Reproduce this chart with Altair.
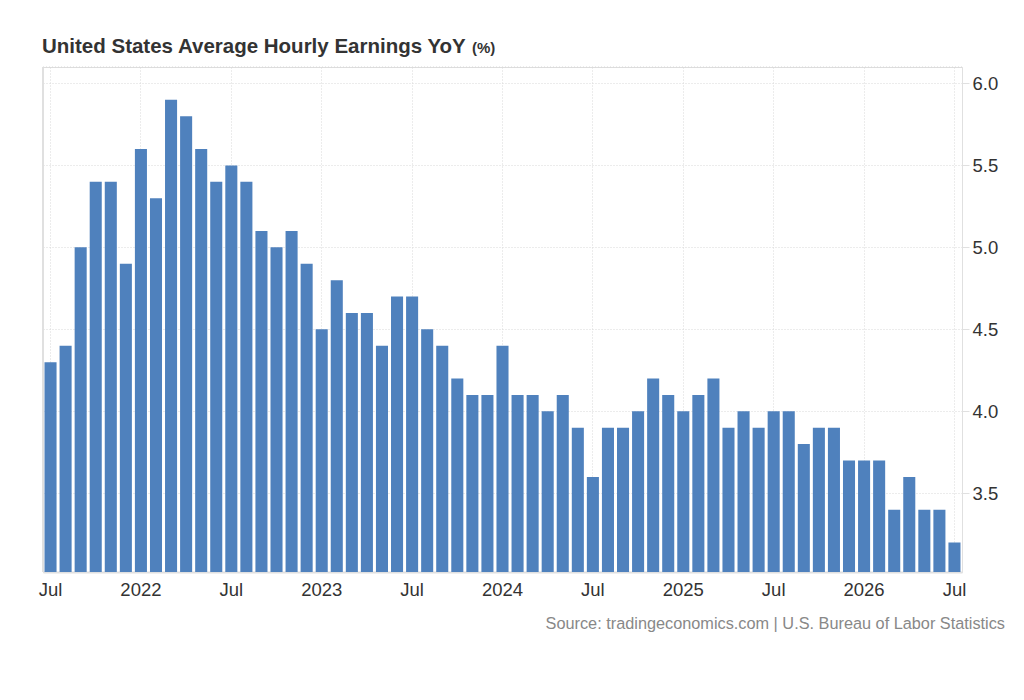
import altair as alt
import pandas as pd

# monthly YoY % change, Jul 2021 .. Jul 2026
months = pd.date_range("2021-07-01", "2026-07-01", freq="MS").strftime("%Y-%m").tolist()
values = [
    4.3, 4.4, 5.0, 5.4, 5.4, 4.9,                          # 2021 Jul-Dec
    5.6, 5.3, 5.9, 5.8, 5.6, 5.4, 5.5, 5.4, 5.1, 5.0, 5.1, 4.9,  # 2022
    4.5, 4.8, 4.6, 4.6, 4.4, 4.7, 4.7, 4.5, 4.4, 4.2, 4.1, 4.1,  # 2023
    4.4, 4.1, 4.1, 4.0, 4.1, 3.9, 3.6, 3.9, 3.9, 4.0, 4.2, 4.1,  # 2024
    4.0, 4.1, 4.2, 3.9, 4.0, 3.9, 4.0, 4.0, 3.8, 3.9, 3.9, 3.7,  # 2025
    3.7, 3.7, 3.4, 3.6, 3.4, 3.4, 3.2,                     # 2026 Jan-Jul
]
tick_months = [m for m in months if m[5:] in ("01", "07")]
y_ticks = [3.5, 4.0, 4.5, 5.0, 5.5, 6.0]

title_text = "United States Average Hourly Earnings YoY"
unit_text = "(%)"
source_text = "Source: tradingeconomics.com | U.S. Bureau of Labor Statistics"

data = pd.DataFrame({"month": months, "value": values})
one = pd.DataFrame({"k": [0]})  # single row for annotations

W, H = 919, 505
FONT = "Liberation Sans"
BAR = "#4f81bd"
GRID = "#d9d9d9"

bars = alt.Chart(data).mark_bar(color=BAR, clip=True).encode(
    x=alt.X(
        "month:O",
        scale=alt.Scale(paddingInner=0.2, paddingOuter=0.1),
        axis=alt.Axis(
            values=tick_months,
            labelExpr="slice(datum.value, 5) == '01' ? slice(datum.value, 0, 4) : 'Jul'",
            title=None,
            ticks=False,
            labelAngle=0,
            labelFontSize=18.5,
            labelFont=FONT,
            labelColor="#333333",
            labelPadding=8,
            domainColor="#e0e0e0",
            domainWidth=2,
            grid=True,
            gridDash=[1, 2],
            gridColor=GRID,
            bandPosition=0.5,
        ),
    ),
    y=alt.Y(
        "value:Q",
        scale=alt.Scale(domain=[3.02, 6.1], nice=False, zero=False),
        axis=alt.Axis(
            orient="right",
            values=y_ticks,
            format=".1f",
            title=None,
            labelFontSize=18.5,
            labelFont=FONT,
            labelColor="#333333",
            labelPadding=3,
            tickSize=7,
            tickColor="#e0e0e0",
            domainColor="#e0e0e0",
            gridDash=[1, 2],
            gridColor=GRID,
        ),
    ),
)

# left solid border and dotted top edge of the plot
left_edge = alt.Chart(one).mark_rule(color="#e0e0e0", strokeWidth=2).encode(
    x=alt.value(0), y=alt.value(0), y2=alt.value(H)
)
top_edge = alt.Chart(one).mark_rule(color=GRID, strokeDash=[1, 2]).encode(
    x=alt.value(0), x2=alt.value(W), y=alt.value(0)
)

title = alt.Chart(one).mark_text(
    text=title_text, font=FONT, fontSize=20.5, fontWeight="bold",
    color="#333333", align="left", baseline="alphabetic"
).encode(x=alt.value(-1), y=alt.value(-14))

unit = alt.Chart(one).mark_text(
    text=unit_text, font=FONT, fontSize=15, fontWeight="bold",
    color="#333333", align="left", baseline="alphabetic"
).encode(x=alt.value(429), y=alt.value(-14))

source = alt.Chart(one).mark_text(
    text=source_text, font=FONT, fontSize=16.3, color="#888888",
    align="right", baseline="middle"
).encode(x=alt.value(W + 43), y=alt.value(H + 52))

chart = alt.layer(left_edge, top_edge, bars, title, unit, source).properties(
    width=W,
    height=H,
    autosize=alt.AutoSizeParams(type="none"),
    padding={"left": 35, "top": 59, "right": 50, "bottom": 80},
).configure_view(stroke=None).configure(background="white")

chart.save("out.html", embed_options={"renderer": "svg", "actions": False})
